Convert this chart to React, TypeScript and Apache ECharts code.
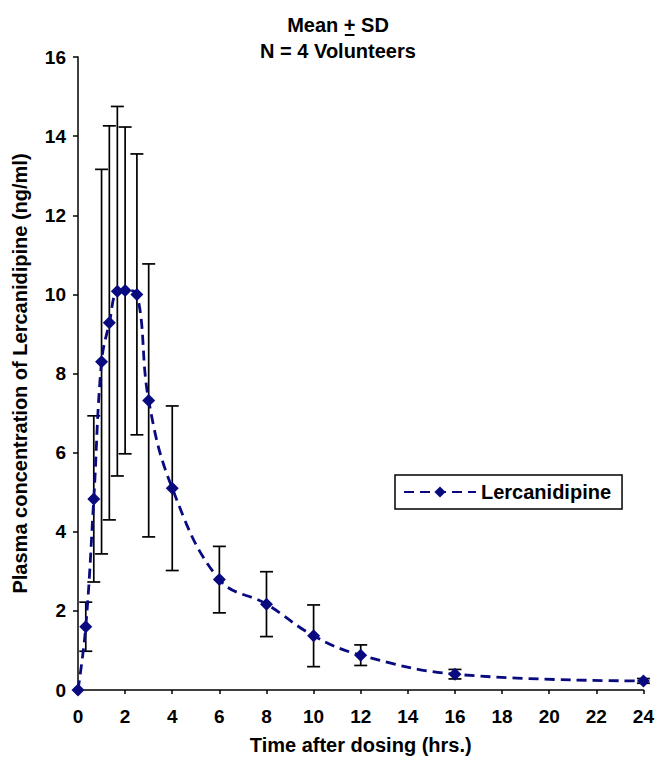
import { useEffect, useRef } from 'react';
import * as echarts from 'echarts';

const times = [0, 0.33, 0.67, 1, 1.33, 1.67, 2, 2.5, 3, 4, 6, 8, 10, 12, 16, 24];
const means = [0, 1.6, 4.83, 8.3, 9.28, 10.08, 10.1, 10.0, 7.32, 5.1, 2.79, 2.17, 1.37, 0.88, 0.4, 0.23];
const sds = [0, 0.62, 2.1, 4.86, 4.98, 4.67, 4.13, 3.55, 3.45, 2.08, 0.84, 0.82, 0.78, 0.26, 0.12, 0.06];
const seriesName = 'Lercanidipine';
const titleLine1 = ['Mean ', '+', ' SD'];
const titleLine2 = 'N = 4 Volunteers';
const xName = 'Time after dosing (hrs.)';
const yName = 'Plasma concentration of Lercanidipine (ng/ml)';

const FONT = "'Liberation Sans', Arial, Helvetica, sans-serif";
const NAVY = '#0a0a80';

function measure(text: string, size: number): number {
  const c = document.createElement('canvas').getContext('2d');
  if (!c) return text.length * size * 0.55;
  c.font = `bold ${size}px ${FONT}`;
  return c.measureText(text).width;
}

export default function App() {
  const ref = useRef<HTMLDivElement>(null);
  useEffect(() => {
    document.body.style.margin = '0';
    if (!ref.current) return;
    const chart = echarts.init(ref.current, undefined, { renderer: 'svg' });

    const tSize = 20;
    const tx = 338;
    const full = titleLine1.join('');
    const W = measure(full, tSize);
    const w1 = measure(titleLine1[0], tSize);
    const w2 = measure(titleLine1[1], tSize);
    const ux0 = tx - W / 2 + w1;

    const lineData = times.map((t, i) => [t, means[i]]);
    const errData = times
      .map((t, i) => [t, means[i] - sds[i], means[i] + sds[i]])
      .filter((d) => d[2] - d[1] > 0);

    chart.setOption({
      animation: false,
      backgroundColor: '#fff',
      textStyle: { fontFamily: FONT },
      grid: { left: 78, right: 8, top: 57, bottom: 75 },
      graphic: [
        {
          type: 'text',
          x: tx,
          y: 25,
          style: {
            text: full,
            align: 'center',
            verticalAlign: 'middle',
            font: `bold ${tSize}px ${FONT}`,
            fill: '#000',
          },
        },
        {
          type: 'line',
          shape: { x1: ux0 + 1, y1: 35, x2: ux0 + w2 - 1, y2: 35 },
          style: { stroke: '#000', lineWidth: 2 },
        },
        {
          type: 'text',
          x: tx,
          y: 51,
          style: {
            text: titleLine2,
            align: 'center',
            verticalAlign: 'middle',
            font: `bold ${tSize}px ${FONT}`,
            fill: '#000',
          },
        },
      ],
      legend: {
        data: [seriesName],
        left: 395,
        top: 475,
        orient: 'horizontal',
        borderColor: '#000',
        borderWidth: 1.5,
        padding: [7, 11, 7, 8],
        itemWidth: 72,
        itemHeight: 14,
        textStyle: { fontSize: 20, fontWeight: 'bold', color: '#000', fontFamily: FONT },
      },
      xAxis: {
        type: 'value',
        min: 0,
        max: 24,
        interval: 2,
        name: xName,
        nameLocation: 'middle',
        nameGap: 45,
        nameTextStyle: { fontSize: 20, fontWeight: 'bold', color: '#000', fontFamily: FONT },
        axisLine: { show: true, lineStyle: { color: '#000', width: 1.5 } },
        axisTick: { show: true, length: 4, lineStyle: { color: '#000', width: 1.5 } },
        splitLine: { show: false },
        axisLabel: { fontSize: 19, fontWeight: 'bold', color: '#000', margin: 17, fontFamily: FONT },
      },
      yAxis: {
        type: 'value',
        min: 0,
        max: 16,
        interval: 2,
        name: yName,
        nameLocation: 'middle',
        nameGap: 48,
        nameTextStyle: { fontSize: 20, fontWeight: 'bold', color: '#000', fontFamily: FONT },
        axisLine: { show: true, lineStyle: { color: '#000', width: 1.5 } },
        axisTick: { show: true, length: 5, lineStyle: { color: '#000', width: 1.5 } },
        splitLine: { show: false },
        axisLabel: { fontSize: 19, fontWeight: 'bold', color: '#000', margin: 12, fontFamily: FONT },
      },
      series: [
        {
          type: 'custom',
          name: 'SD',
          z: 1,
          data: errData,
          encode: { x: 0, y: [1, 2] },
          renderItem: (params: any, api: any) => {
            const x = api.value(0);
            const lo = api.coord([x, api.value(1)]);
            const hi = api.coord([x, api.value(2)]);
            const w = 6.5;
            const style = { stroke: '#000', lineWidth: 1.7 };
            return {
              type: 'group',
              children: [
                { type: 'line', shape: { x1: lo[0], y1: lo[1], x2: hi[0], y2: hi[1] }, style },
                { type: 'line', shape: { x1: hi[0] - w, y1: hi[1], x2: hi[0] + w, y2: hi[1] }, style },
                { type: 'line', shape: { x1: lo[0] - w, y1: lo[1], x2: lo[0] + w, y2: lo[1] }, style },
              ],
            };
          },
        },
        {
          type: 'line',
          name: seriesName,
          z: 3,
          data: lineData,
          smooth: 0.4,
          symbol: 'diamond',
          symbolSize: 13,
          itemStyle: { color: NAVY },
          lineStyle: { color: NAVY, width: 2.8, type: [10, 6] },
        },
      ],
    });
    return () => chart.dispose();
  }, []);
  return <div ref={ref} style={{ width: 657, height: 765 }} />;
}
